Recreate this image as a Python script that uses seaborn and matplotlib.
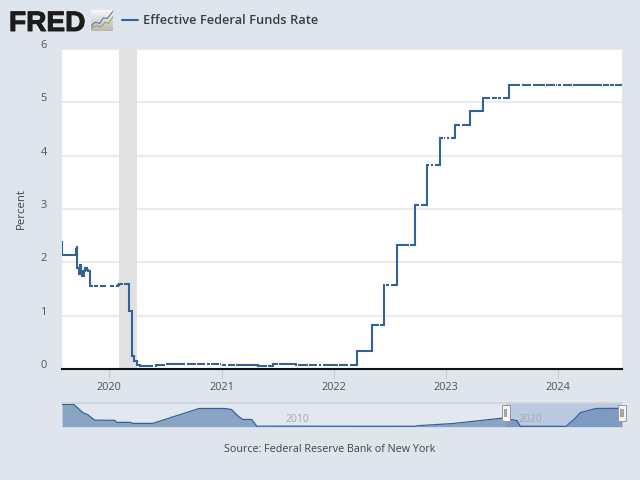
import matplotlib
matplotlib.use("Agg")
import matplotlib.pyplot as plt
import matplotlib.dates as mdates
import matplotlib.patheffects as pe
from matplotlib.patches import Rectangle
from matplotlib.transforms import ScaledTranslation
import numpy as np
import pandas as pd
import seaborn as sns

rate_dates = ["2019-07-31","2019-08-01","2019-09-16","2019-09-17","2019-09-19","2019-09-24","2019-09-28",
 "2019-10-01","2019-10-04","2019-10-11","2019-10-15","2019-10-21","2019-10-25","2019-10-31","2020-01-10",
 "2020-01-29","2020-02-01","2020-03-04","2020-03-16","2020-03-23","2020-04-01","2020-04-10",
 "2020-05-15","2020-06-01","2020-07-01","2020-09-15","2021-01-01","2021-03-15","2021-05-01","2021-06-17","2021-08-01",
 "2021-09-01","2022-03-17","2022-05-05","2022-06-16","2022-07-28","2022-09-22","2022-11-03","2022-12-15",
 "2023-02-02","2023-03-23","2023-05-04","2023-07-27","2024-07-29"]
rate_values = [2.40,2.13,2.25,2.30,1.90,1.78,1.95,1.83,1.75,1.83,1.90,1.85,1.83,1.56,1.55,
 1.57,1.59,1.09,0.25,0.15,0.08,0.05,0.05,0.08,0.09,0.09,0.08,0.07,0.06,0.10,0.09,
 0.08,0.33,0.83,1.58,2.33,3.08,3.83,4.33,4.58,4.83,5.08,5.33,5.33]

missing_days = ["2019-11-11","2019-11-28","2019-12-25",
 "2020-01-01","2020-01-20","2020-02-17","2020-05-25","2020-07-03","2020-09-07","2020-10-12","2020-11-11","2020-11-26","2020-12-25",
 "2021-01-01","2021-01-18","2021-02-15","2021-05-31","2021-07-05","2021-09-06","2021-10-11","2021-11-11","2021-11-25",
 "2022-01-17","2022-02-21","2022-05-30","2022-06-20","2022-07-04","2022-09-05","2022-10-10","2022-11-11","2022-11-24","2022-12-26",
 "2023-01-02","2023-01-16","2023-02-20","2023-05-29","2023-06-19","2023-07-04","2023-09-04","2023-10-09","2023-11-23","2023-12-25",
 "2024-01-01","2024-01-15","2024-02-19","2024-05-27","2024-06-19","2024-07-04"]

nav_dates = ["2000-07-01","2001-01-01","2001-05-25","2001-08-08","2001-11-25","2002-10-08","2002-11-08",
 "2003-06-15","2003-07-15","2004-05-25","2006-05-25","2007-07-01","2007-10-15","2008-01-20","2008-04-08",
 "2008-08-25","2008-11-15","2015-08-25","2015-11-08","2017-04-15","2019-05-25","2019-09-15","2020-01-25","2020-03-15",
 "2022-03-01","2022-07-01","2022-10-15","2023-06-15","2024-07-29"]
nav_values = [6.5,6.5,4.1,3.5,1.9,1.85,1.25,1.25,0.95,0.95,5.3,5.3,5.0,3.2,2.1,2.1,0.15,0.1,0.3,0.9,2.45,2.2,1.75,0.1,
 0.1,2.0,4.1,5.3,5.33]

recession_start, recession_end = "2020-02-01", "2020-04-01"
year_ticks = ["2020-01-01","2021-01-01","2022-01-01","2023-01-01","2024-01-01"]
year_labels = ["2020","2021","2022","2023","2024"]
percent_ticks = [0,1,2,3,4,5,6]
nav_ticks = ["2010-01-01","2020-01-01"]
nav_labels = ["2010","2020"]
series_name = "Effective Federal Funds Rate"
source_text = "Source: Federal Reserve Bank of New York"
x_min, x_max = "2019-07-31", "2024-07-29"
nav_min = "2000-07-01"

BG = "#dee5ed"
LINE = "#336299"
W, H = 640, 480
sns.set_theme(style="white")
plt.rcParams["font.family"] = ["Open Sans", "DejaVu Sans"]

def box(x0, y0, x1, y1):
    return [x0/W, 1-y1/H, (x1-x0)/W, (y1-y0)/H]

def segmented(dates, values, gaps, half_gap=pd.Timedelta(days=2.5)):
    s = pd.Series(values, index=pd.to_datetime(dates))
    starts = [s.index[0]] + [pd.Timestamp(g) + half_gap for g in gaps]
    ends = [pd.Timestamp(g) - half_gap for g in gaps] + [s.index[-1]]
    rows = []
    for k, (a, b) in enumerate(zip(starts, ends)):
        idx = sorted({a, b} | {d for d in s.index if a < d < b})
        for d in idx:
            rows.append((d, s[s.index <= d].iloc[-1], k))
    return pd.DataFrame(rows, columns=["date", "rate", "segment"])

fig = plt.figure(figsize=(6.4, 4.8), dpi=100, facecolor=BG)

# main chart
ax = fig.add_axes(box(62, 49, 622, 369), facecolor="white")
df = segmented(rate_dates, rate_values, missing_days)
ax.axvspan(pd.Timestamp(recession_start), pd.Timestamp(recession_end), color="#e1e1e1", lw=0, zorder=1)
ax.yaxis.grid(True, color="#e6e6e6", lw=1.1, zorder=0)
ax.set_axisbelow(True)
sns.lineplot(data=df, x="date", y="rate", units="segment", ax=ax, color=LINE, lw=1.5, drawstyle="steps-post",
             estimator=None, zorder=3, solid_joinstyle="miter", solid_capstyle="butt")
ax.set_xlim(pd.Timestamp(x_min), pd.Timestamp(x_max))
ax.set_ylim(0, 6)
for s in ["top", "left", "right"]:
    ax.spines[s].set_visible(False)
ax.spines["bottom"].set_color("#111111")
ax.spines["bottom"].set_linewidth(1.5)
ax.set_xticks(pd.to_datetime(year_ticks))
ax.set_xticklabels(year_labels)
ax.set_yticks(percent_ticks)
ax.set_xlabel("")
ax.set_ylabel("Percent", fontsize=8.2, color="#444444")
ax.yaxis.set_label_coords((27-62)/560, 0.5)
ax.tick_params(axis="x", length=6.5, width=0.8, color="#c0d0e0", labelsize=7.8, labelcolor="#555555", pad=2.5, bottom=True)
ax.tick_params(axis="y", length=0, labelsize=8, labelcolor="#555555", pad=11)
off = ScaledTranslation(0, 0.05, fig.dpi_scale_trans)
for t in ax.get_yticklabels():
    t.set_transform(t.get_transform() + off)

# navigator
nav = fig.add_axes(box(62, 403, 622, 427), facecolor="#e2e8ef")
nd = pd.DataFrame({"date": pd.to_datetime(nav_dates), "rate": nav_values})
nav.fill_between(nd["date"], nd["rate"], 0, color=LINE, alpha=0.5, lw=0)
sns.lineplot(data=nd, x="date", y="rate", ax=nav, color=LINE, lw=0.9, estimator=None)
nav.set_xlim(pd.Timestamp(nav_min), pd.Timestamp(x_max))
nav.set_ylim(-0.1, 6.9)
nav.set_xlabel(""); nav.set_ylabel(""); nav.set_yticks([]); nav.set_xticks([])
for s in ["left", "right", "bottom"]:
    nav.spines[s].set_visible(False)
nav.spines["top"].set_color("#cdd3da")
nav.spines["top"].set_linewidth(1.2)
nav.axvspan(pd.Timestamp(x_min), pd.Timestamp(x_max), color="#6685c2", alpha=0.3, lw=0)
for d, lab in zip(nav_ticks, nav_labels):
    nav.annotate(lab, (pd.Timestamp(d), 0), xycoords=("data", "axes fraction"), xytext=(2.0, 1.5),
                 textcoords="offset points", fontsize=7.5, color="#a3a9b0", ha="left", va="bottom")
for d in (x_min, x_max):
    xd = fig.transFigure.inverted().transform(nav.transData.transform((mdates.date2num(pd.Timestamp(d)), 0)))[0]*W
    fig.add_artist(Rectangle(((xd-4)/W, 1-421/H), 8/W, 16/H, transform=fig.transFigure, fc="#f4f4f4", ec="#999999", lw=0.7, zorder=5))
    fig.add_artist(Rectangle(((xd-1.7)/W, 1-417/H), 3.4/W, 8/H, transform=fig.transFigure, fc="#a5a5a5", lw=0, zorder=6))

# header
fig.text(9/W, 1-31/H, "FRED", fontsize=20.2, fontweight="bold", family="Liberation Sans", color="#1c1c1c", ha="left", va="baseline",
         path_effects=[pe.withStroke(linewidth=0.7, foreground="#1c1c1c")])
icon = fig.add_axes(box(91, 10, 113, 31))
icon.imshow(np.linspace(0.97, 0.72, 30).reshape(-1, 1), cmap="gray", vmin=0, vmax=1, aspect="auto", extent=(0, 1, 0, 1))
icon.plot([0, .2, .4, .55, .75, 1], [.25, .42, .36, .62, .6, .95], color="#4572a7", lw=0.7)
icon.plot([0, .25, .45, .65, .8, 1], [.15, .25, .2, .42, .36, .68], color="#8aa63d", lw=0.7)
icon.set_xlim(0, 1); icon.set_ylim(0, 1); icon.axis("off")
fig.add_artist(plt.Line2D([122/W, 138/W], [1-20/H, 1-20/H], color=LINE, lw=1.5, transform=fig.transFigure))
fig.text(143/W, 1-20/H, series_name, fontsize=9.25, fontweight=600, color="#3e3e3e", ha="left", va="center")
fig.text(330/W, 1-450/H, source_text, fontsize=7.75, color="#444444", ha="center", va="center")

fig.savefig("out.png", dpi=100, facecolor=BG)
